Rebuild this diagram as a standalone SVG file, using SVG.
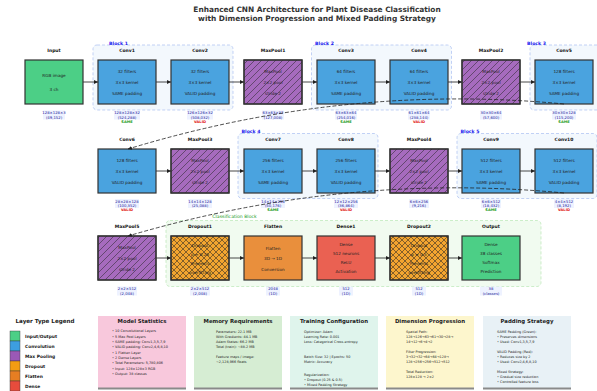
<svg xmlns="http://www.w3.org/2000/svg" width="597" height="391" viewBox="0 0 597 391">
<defs>
<style>
text{font-family:"DejaVu Sans","Liberation Sans",sans-serif}
.title{font-size:7.4px;font-weight:bold;fill:#333;text-anchor:middle}
.lbl{font-size:4.5px;font-weight:bold;fill:#111;text-anchor:middle;dominant-baseline:central}
.in{font-size:4.2px;fill:#222;text-anchor:middle;dominant-baseline:central}
.dim{font-size:3.8px;fill:#1a1a9a;text-anchor:middle;dominant-baseline:central}
.same{font-size:3.6px;font-weight:bold;fill:#1a9a1a;text-anchor:middle;dominant-baseline:central}
.valid{font-size:3.6px;font-weight:bold;fill:#e01010;text-anchor:middle;dominant-baseline:central}
.dbg{fill:#eef2ff}
.box{stroke:#333;stroke-width:1.2}
.conv{fill:#4aa3df}
.io{fill:#4ccf86}
.pool{fill:#a66bbe}
.drop{fill:#f3a530}
.flat{fill:#e98f3c}
.dense{fill:#ea6152}
.blk{fill:#eef5fc;fill-opacity:0.7;stroke:#a9bff0;stroke-width:0.7;stroke-dasharray:3,2}
.cls{fill:#eefaec;fill-opacity:0.8;stroke:#b9e6b5;stroke-width:0.7;stroke-dasharray:3,2}
.blkt{font-size:4.6px;font-weight:bold;fill:#1515ee;text-anchor:middle;dominant-baseline:central}
.clst{font-size:4.6px;fill:#1a9a1a;text-anchor:middle;dominant-baseline:central}
.arr{stroke:#333;stroke-width:0.9;fill:none;marker-end:url(#ah)}
.dash{stroke:#222;stroke-width:0.8;fill:none;stroke-dasharray:4,2;marker-end:url(#ah)}
.ib{stroke:none}
.ish{fill:#8a8a8a}
.it{font-size:5.4px;font-weight:bold;fill:#222;text-anchor:middle;dominant-baseline:central}
.ix{font-size:3.4px;fill:#222;dominant-baseline:central}
.lg{font-size:4.4px;font-weight:bold;fill:#222;dominant-baseline:central}
.lgt{font-size:5.6px;font-weight:bold;fill:#222;text-anchor:middle;dominant-baseline:central}
</style>
<pattern id="hatch" width="7" height="7" patternUnits="userSpaceOnUse"><path d="M-1,1 L1,-1 M0,7 L7,0 M6,8 L8,6" stroke="#222" stroke-width="0.5"/></pattern>
<pattern id="xhatch" width="6" height="6" patternUnits="userSpaceOnUse"><path d="M-1,1 L1,-1 M0,6 L6,0 M5,7 L7,5 M-1,5 L1,7 M0,0 L6,6 M5,-1 L7,1" stroke="#222" stroke-width="0.55"/></pattern>
<marker id="ah" viewBox="0 0 6 6" refX="6" refY="3" markerWidth="4" markerHeight="4" orient="auto" markerUnits="userSpaceOnUse"><path d="M0,0 L6,3 L0,6 z" fill="#222"/></marker>
</defs>
<rect width="597" height="391" fill="#fff"/>
<text class="title" x="317" y="12">Enhanced CNN Architecture for Plant Disease Classification</text>
<text class="title" x="317" y="21">with Dimension Progression and Mixed Padding Strategy</text>

<g id="blocks">
<rect class="blk" x="93" y="45" width="140" height="65" rx="4"/>
<text class="blkt" x="118.5" y="43.5">Block 1</text>
<rect class="blk" x="311.5" y="45" width="140" height="65" rx="4"/>
<text class="blkt" x="324.5" y="43.5">Block 2</text>
<rect class="blk" x="530" y="45" width="140" height="65" rx="4"/>
<text class="blkt" x="536.5" y="43.5">Block 3</text>
<rect class="blk" x="238" y="133.5" width="140" height="65" rx="4"/>
<text class="blkt" x="251" y="131.5">Block 4</text>
<rect class="blk" x="457" y="133.5" width="140" height="65" rx="4"/>
<text class="blkt" x="470" y="131.5">Block 5</text>
<rect class="cls" x="166" y="220.5" width="375" height="66" rx="4"/>
<text class="clst" x="234.5" y="216.5">Classification Block</text>
</g>

<!-- Row 1 -->
<g id="input">
<text class="lbl" x="54" y="50">Input</text>
<rect class="box io" x="25" y="60" width="58" height="44"/>
<text class="in" x="54" y="75">RGB image</text>
<text class="in" x="54" y="89">3 ch</text>
<rect class="dbg" x="43" y="110.5" width="22" height="9"/>
<text class="dim" x="54" y="112.7">128×128×3</text>
<text class="dim" x="54" y="117.3">(49,152)</text>
</g>
<g id="conv1">
<text class="lbl" x="127" y="50">Conv1</text>
<rect class="box conv" x="98" y="60" width="58" height="44"/>
<text class="in" x="127" y="71">32 filters</text>
<text class="in" x="127" y="82">3×3 kernel</text>
<text class="in" x="127" y="93">SAME padding</text>
<rect class="dbg" x="114" y="110.5" width="26" height="9"/>
<text class="dim" x="127" y="112.7">128×128×32</text>
<text class="dim" x="127" y="117.3">(524,288)</text>
<text class="same" x="127" y="122">SAME</text>
</g>
<g id="conv2">
<text class="lbl" x="200" y="50">Conv2</text>
<rect class="box conv" x="171" y="60" width="58" height="44"/>
<text class="in" x="200" y="71">32 filters</text>
<text class="in" x="200" y="82">3×3 kernel</text>
<text class="in" x="200" y="93">VALID padding</text>
<rect class="dbg" x="187" y="110.5" width="26" height="9"/>
<text class="dim" x="200" y="112.7">126×126×32</text>
<text class="dim" x="200" y="117.3">(508,032)</text>
<text class="valid" x="200" y="122">VALID</text>
</g>
<g id="maxpool1">
<text class="lbl" x="273" y="50">MaxPool1</text>
<rect class="box pool" x="244" y="60" width="58" height="44"/>
<rect x="244" y="60" width="58" height="44" fill="url(#hatch)"/>
<rect class="box" fill="none" x="244" y="60" width="58" height="44"/>
<text class="in" x="273" y="71">MaxPool</text>
<text class="in" x="273" y="82">2×2 pool</text>
<text class="in" x="273" y="93">stride 2</text>
<rect class="dbg" x="262" y="110.5" width="22" height="9"/>
<text class="dim" x="273" y="112.7">63×63×32</text>
<text class="dim" x="273" y="117.3">(127,008)</text>
</g>
<g id="conv3">
<text class="lbl" x="346" y="50">Conv3</text>
<rect class="box conv" x="317" y="60" width="58" height="44"/>
<text class="in" x="346" y="71">64 filters</text>
<text class="in" x="346" y="82">3×3 kernel</text>
<text class="in" x="346" y="93">SAME padding</text>
<rect class="dbg" x="335" y="110.5" width="22" height="9"/>
<text class="dim" x="346" y="112.7">63×63×64</text>
<text class="dim" x="346" y="117.3">(254,016)</text>
<text class="same" x="346" y="122">SAME</text>
</g>
<g id="conv4">
<text class="lbl" x="419" y="50">Conv4</text>
<rect class="box conv" x="390" y="60" width="58" height="44"/>
<text class="in" x="419" y="71">64 filters</text>
<text class="in" x="419" y="82">3×3 kernel</text>
<text class="in" x="419" y="93">VALID padding</text>
<rect class="dbg" x="408" y="110.5" width="22" height="9"/>
<text class="dim" x="419" y="112.7">61×61×64</text>
<text class="dim" x="419" y="117.3">(238,144)</text>
<text class="valid" x="419" y="122">VALID</text>
</g>
<g id="maxpool2">
<text class="lbl" x="491" y="50">MaxPool2</text>
<rect class="box pool" x="462" y="60" width="58" height="44"/>
<rect x="462" y="60" width="58" height="44" fill="url(#hatch)"/>
<rect class="box" fill="none" x="462" y="60" width="58" height="44"/>
<text class="in" x="491" y="71">MaxPool</text>
<text class="in" x="491" y="82">2×2 pool</text>
<text class="in" x="491" y="93">stride 2</text>
<rect class="dbg" x="480" y="110.5" width="22" height="9"/>
<text class="dim" x="491" y="112.7">30×30×64</text>
<text class="dim" x="491" y="117.3">(57,600)</text>
</g>
<g id="conv5">
<text class="lbl" x="564" y="50">Conv5</text>
<rect class="box conv" x="535" y="60" width="58" height="44"/>
<text class="in" x="564" y="71">128 filters</text>
<text class="in" x="564" y="82">3×3 kernel</text>
<text class="in" x="564" y="93">SAME padding</text>
<rect class="dbg" x="552" y="110.5" width="24" height="9"/>
<text class="dim" x="564" y="112.7">30×30×128</text>
<text class="dim" x="564" y="117.3">(115,200)</text>
<text class="same" x="564" y="122">SAME</text>
</g>

<!-- Row 2 -->
<g id="conv6">
<text class="lbl" x="127" y="139">Conv6</text>
<rect class="box conv" x="98" y="149" width="58" height="44"/>
<text class="in" x="127" y="160">128 filters</text>
<text class="in" x="127" y="171">3×3 kernel</text>
<text class="in" x="127" y="182">VALID padding</text>
<rect class="dbg" x="115" y="199" width="24" height="9"/>
<text class="dim" x="127" y="201.3">28×28×128</text>
<text class="dim" x="127" y="205.7">(100,352)</text>
<text class="valid" x="127" y="210.3">VALID</text>
</g>
<g id="maxpool3">
<text class="lbl" x="200" y="139">MaxPool3</text>
<rect class="box pool" x="171" y="149" width="58" height="44"/>
<rect x="171" y="149" width="58" height="44" fill="url(#hatch)"/>
<rect class="box" fill="none" x="171" y="149" width="58" height="44"/>
<text class="in" x="200" y="160">MaxPool</text>
<text class="in" x="200" y="171">2×2 pool</text>
<text class="in" x="200" y="182">stride 2</text>
<rect class="dbg" x="188" y="199" width="24" height="9"/>
<text class="dim" x="200" y="201.3">14×14×128</text>
<text class="dim" x="200" y="205.7">(25,088)</text>
</g>
<g id="conv7">
<text class="lbl" x="273" y="139">Conv7</text>
<rect class="box conv" x="244" y="149" width="58" height="44"/>
<text class="in" x="273" y="160">256 filters</text>
<text class="in" x="273" y="171">3×3 kernel</text>
<text class="in" x="273" y="182">SAME padding</text>
<rect class="dbg" x="261" y="199" width="24" height="9"/>
<text class="dim" x="273" y="201.3">14×14×256</text>
<text class="dim" x="273" y="205.7">(50,176)</text>
<text class="same" x="273" y="210.3">SAME</text>
</g>
<g id="conv8">
<text class="lbl" x="346" y="139">Conv8</text>
<rect class="box conv" x="317" y="149" width="58" height="44"/>
<text class="in" x="346" y="160">256 filters</text>
<text class="in" x="346" y="171">3×3 kernel</text>
<text class="in" x="346" y="182">VALID padding</text>
<rect class="dbg" x="334" y="199" width="24" height="9"/>
<text class="dim" x="346" y="201.3">12×12×256</text>
<text class="dim" x="346" y="205.7">(36,864)</text>
<text class="valid" x="346" y="210.3">VALID</text>
</g>
<g id="maxpool4">
<text class="lbl" x="419" y="139">MaxPool4</text>
<rect class="box pool" x="390" y="149" width="58" height="44"/>
<rect x="390" y="149" width="58" height="44" fill="url(#hatch)"/>
<rect class="box" fill="none" x="390" y="149" width="58" height="44"/>
<text class="in" x="419" y="160">MaxPool</text>
<text class="in" x="419" y="171">2×2 pool</text>
<text class="in" x="419" y="182">stride 2</text>
<rect class="dbg" x="409" y="199" width="20" height="9"/>
<text class="dim" x="419" y="201.3">6×6×256</text>
<text class="dim" x="419" y="205.7">(9,216)</text>
</g>
<g id="conv9">
<text class="lbl" x="491" y="139">Conv9</text>
<rect class="box conv" x="462" y="149" width="58" height="44"/>
<text class="in" x="491" y="160">512 filters</text>
<text class="in" x="491" y="171">3×3 kernel</text>
<text class="in" x="491" y="182">SAME padding</text>
<rect class="dbg" x="481" y="199" width="20" height="9"/>
<text class="dim" x="491" y="201.3">6×6×512</text>
<text class="dim" x="491" y="205.7">(18,432)</text>
<text class="same" x="491" y="210.3">SAME</text>
</g>
<g id="conv10">
<text class="lbl" x="564" y="139">Conv10</text>
<rect class="box conv" x="535" y="149" width="58" height="44"/>
<text class="in" x="564" y="160">512 filters</text>
<text class="in" x="564" y="171">3×3 kernel</text>
<text class="in" x="564" y="182">VALID padding</text>
<rect class="dbg" x="554" y="199" width="20" height="9"/>
<text class="dim" x="564" y="201.3">4×4×512</text>
<text class="dim" x="564" y="205.7">(8,192)</text>
<text class="valid" x="564" y="210.3">VALID</text>
</g>

<!-- Row 3 -->
<g id="maxpool5">
<text class="lbl" x="127" y="226">MaxPool5</text>
<rect class="box pool" x="98" y="236" width="58" height="44"/>
<rect x="98" y="236" width="58" height="44" fill="url(#hatch)"/>
<rect class="box" fill="none" x="98" y="236" width="58" height="44"/>
<text class="in" x="127" y="247">MaxPool</text>
<text class="in" x="127" y="258">2×2 pool</text>
<text class="in" x="127" y="269">stride 2</text>
<rect class="dbg" x="117" y="286.5" width="20" height="9"/>
<text class="dim" x="127" y="288.7">2×2×512</text>
<text class="dim" x="127" y="293.3">(2,048)</text>
</g>
<g id="dropout1">
<text class="lbl" x="200" y="226">Dropout1</text>
<rect class="box drop" x="171" y="236" width="58" height="44"/>
<rect x="171" y="236" width="58" height="44" fill="url(#xhatch)"/>
<rect class="box" fill="none" x="171" y="236" width="58" height="44"/>
<text class="in" x="200" y="245">Dropout</text>
<text class="in" x="200" y="254">p = 0.25</text>
<text class="in" x="200" y="263">Prevents</text>
<text class="in" x="200" y="272">overfitting</text>
<rect class="dbg" x="190" y="286.5" width="20" height="9"/>
<text class="dim" x="200" y="288.7">2×2×512</text>
<text class="dim" x="200" y="293.3">(2,048)</text>
</g>
<g id="flatten">
<text class="lbl" x="273" y="226">Flatten</text>
<rect class="box flat" x="244" y="236" width="58" height="44"/>
<text class="in" x="273" y="248">Flatten</text>
<text class="in" x="273" y="258.7">3D → 1D</text>
<text class="in" x="273" y="269.7">Conversion</text>
<rect class="dbg" x="266" y="286.5" width="14" height="9"/>
<text class="dim" x="273" y="288.7">2048</text>
<text class="dim" x="273" y="293.3">(1D)</text>
</g>
<g id="dense1">
<text class="lbl" x="346" y="226">Dense1</text>
<rect class="box dense" x="317" y="236" width="58" height="44"/>
<text class="in" x="346" y="244.7">Dense</text>
<text class="in" x="346" y="253.7">512 neurons</text>
<text class="in" x="346" y="262.3">ReLU</text>
<text class="in" x="346" y="271.3">Activation</text>
<rect class="dbg" x="339" y="286.5" width="14" height="9"/>
<text class="dim" x="346" y="288.7">512</text>
<text class="dim" x="346" y="293.3">(1D)</text>
</g>
<g id="dropout2">
<text class="lbl" x="419" y="226">Dropout2</text>
<rect class="box drop" x="390" y="236" width="58" height="44"/>
<rect x="390" y="236" width="58" height="44" fill="url(#xhatch)"/>
<rect class="box" fill="none" x="390" y="236" width="58" height="44"/>
<text class="in" x="419" y="245">Dropout</text>
<text class="in" x="419" y="254">p = 0.5</text>
<text class="in" x="419" y="263">Prevents</text>
<text class="in" x="419" y="272">overfitting</text>
<rect class="dbg" x="412" y="286.5" width="14" height="9"/>
<text class="dim" x="419" y="288.7">512</text>
<text class="dim" x="419" y="293.3">(1D)</text>
</g>
<g id="output">
<text class="lbl" x="491" y="226">Output</text>
<rect class="box io" x="462" y="236" width="58" height="44"/>
<text class="in" x="491" y="244.7">Dense</text>
<text class="in" x="491" y="253.7">38 classes</text>
<text class="in" x="491" y="262.3">Softmax</text>
<text class="in" x="491" y="271.3">Prediction</text>
<rect class="dbg" x="480" y="286.5" width="22" height="9"/>
<text class="dim" x="491" y="288.7">38</text>
<text class="dim" x="491" y="293.3">(classes)</text>
</g>

<g id="connectors">
<line class="arr" x1="83" y1="82" x2="98" y2="82"/>
<line class="arr" x1="156" y1="82" x2="171" y2="82"/>
<line class="arr" x1="229" y1="82" x2="244" y2="82"/>
<line class="arr" x1="302" y1="82" x2="317" y2="82"/>
<line class="arr" x1="375" y1="82" x2="390" y2="82"/>
<line class="arr" x1="448" y1="82" x2="462" y2="82"/>
<line class="arr" x1="520" y1="82" x2="535" y2="82"/>
<line class="arr" x1="156" y1="171" x2="171" y2="171"/>
<line class="arr" x1="229" y1="171" x2="244" y2="171"/>
<line class="arr" x1="302" y1="171" x2="317" y2="171"/>
<line class="arr" x1="375" y1="171" x2="390" y2="171"/>
<line class="arr" x1="448" y1="171" x2="462" y2="171"/>
<line class="arr" x1="520" y1="171" x2="535" y2="171"/>
<line class="arr" x1="156" y1="258" x2="171" y2="258"/>
<line class="arr" x1="229" y1="258" x2="244" y2="258"/>
<line class="arr" x1="302" y1="258" x2="317" y2="258"/>
<line class="arr" x1="375" y1="258" x2="390" y2="258"/>
<line class="arr" x1="448" y1="258" x2="462" y2="258"/>
<path class="dash" d="M564,104 Q345,83 128,149"/>
<path class="dash" d="M564,193 Q345,172 128,236"/>
</g>

<g id="legend">
<text class="lgt" x="45" y="321">Layer Type Legend</text>
<rect x="10" y="331" width="10" height="10" fill="#4ccf86" stroke="#333" stroke-width="0.4"/>
<text class="lg" x="25" y="336">Input/Output</text>
<rect x="10" y="341" width="10" height="10" fill="#3d9ee0" stroke="#333" stroke-width="0.4"/>
<text class="lg" x="25" y="346">Convolution</text>
<rect x="10" y="351" width="10" height="10" fill="#9b59b6" stroke="#333" stroke-width="0.4"/>
<text class="lg" x="25" y="356">Max Pooling</text>
<rect x="10" y="361" width="10" height="10" fill="#f39c12" stroke="#333" stroke-width="0.4"/>
<text class="lg" x="25" y="366">Dropout</text>
<rect x="10" y="371" width="10" height="10" fill="#e67e22" stroke="#333" stroke-width="0.4"/>
<text class="lg" x="25" y="376">Flatten</text>
<rect x="10" y="381" width="10" height="10" fill="#e74c3c" stroke="#333" stroke-width="0.4"/>
<text class="lg" x="25" y="386">Dense</text>
</g>

<g id="model-statistics">
<rect class="ish" x="98" y="318" width="88" height="71.5"/>
<rect class="ib" x="98" y="316" width="88" height="71.5" fill="#f8c8dc"/>
<text class="it" x="142" y="321">Model Statistics</text>
<text class="ix" x="112" y="331">• 10 Convolutional Layers</text>
<text class="ix" x="112" y="336.5">• 5 Max Pool Layers</text>
<text class="ix" x="112" y="341.8">• SAME padding: Conv1,3,5,7,9</text>
<text class="ix" x="112" y="347.2">• VALID padding: Conv2,4,6,8,10</text>
<text class="ix" x="112" y="352.5">• 1 Flatten Layer</text>
<text class="ix" x="112" y="357.8">• 2 Dense Layers</text>
<text class="ix" x="112" y="363.2">• Total Parameters: 5,780,806</text>
<text class="ix" x="112" y="368.5">• Input: 128×128×3 RGB</text>
<text class="ix" x="112" y="373.8">• Output: 38 classes</text>
</g>
<g id="memory-requirements">
<rect class="ish" x="194" y="318" width="88" height="71.5"/>
<rect class="ib" x="194" y="316" width="88" height="71.5" fill="#d6edd3"/>
<text class="it" x="238" y="321">Memory Requirements</text>
<text class="ix" x="216" y="331.7">Parameters: 22.1 MB</text>
<text class="ix" x="216" y="336.7">With Gradients: 44.1 MB</text>
<text class="ix" x="216" y="341.7">Adam States: 66.2 MB</text>
<text class="ix" x="216" y="346.7">Total (train): ~88.2 MB</text>
<text class="ix" x="216" y="356.7">Feature maps / image:</text>
<text class="ix" x="216" y="361.7">~2,128,966 floats</text>
</g>
<g id="training-configuration">
<rect class="ish" x="290" y="318" width="88" height="71.5"/>
<rect class="ib" x="290" y="316" width="88" height="71.5" fill="#dff4ec"/>
<text class="it" x="334" y="321">Training Configuration</text>
<text class="ix" x="304" y="331.7">Optimizer: Adam</text>
<text class="ix" x="304" y="336.7">Learning Rate: 0.001</text>
<text class="ix" x="304" y="342">Loss: Categorical Cross-entropy</text>
<text class="ix" x="304" y="356.7">Batch Size: 32 | Epochs: 50</text>
<text class="ix" x="304" y="361.7">Metric: Accuracy</text>
<text class="ix" x="304" y="375">Regularization:</text>
<text class="ix" x="304" y="380">• Dropout (0.25 &amp; 0.5)</text>
<text class="ix" x="304" y="385">• Mixed Padding Strategy</text>
</g>
<g id="dimension-progression">
<rect class="ish" x="386" y="318" width="88" height="71.5"/>
<rect class="ib" x="386" y="316" width="88" height="71.5" fill="#fdf6cd"/>
<text class="it" x="430" y="321">Dimension Progression</text>
<text class="ix" x="406" y="331.7">Spatial Path:</text>
<text class="ix" x="406" y="336.5">128→126→63→61→30→28→</text>
<text class="ix" x="406" y="341.5">14→12→6→4→2</text>
<text class="ix" x="406" y="351.7">Filter Progression:</text>
<text class="ix" x="406" y="356.7">3→32→32→64→64→128→</text>
<text class="ix" x="406" y="361.7">128→256→256→512→512</text>
<text class="ix" x="406" y="371.7">Total Reduction:</text>
<text class="ix" x="406" y="376.7">128×128 → 2×2</text>
</g>
<g id="padding-strategy">
<rect class="ish" x="483" y="318" width="88" height="71.5"/>
<rect class="ib" x="483" y="316" width="88" height="71.5" fill="#e8f1f6"/>
<text class="it" x="527" y="321">Padding Strategy</text>
<text class="ix" x="497" y="331.7">SAME Padding (Green):</text>
<text class="ix" x="497" y="336.7">• Preserves dimensions</text>
<text class="ix" x="497" y="341.5">• Used: Conv1,3,5,7,9</text>
<text class="ix" x="497" y="351.7">VALID Padding (Red):</text>
<text class="ix" x="497" y="356.7">• Reduces size by 2</text>
<text class="ix" x="497" y="361.7">• Used: Conv2,4,6,8,10</text>
<text class="ix" x="497" y="371.7">Mixed Strategy:</text>
<text class="ix" x="497" y="376.7">• Gradual size reduction</text>
<text class="ix" x="497" y="381.7">• Controlled feature loss</text>
</g>
</svg>
